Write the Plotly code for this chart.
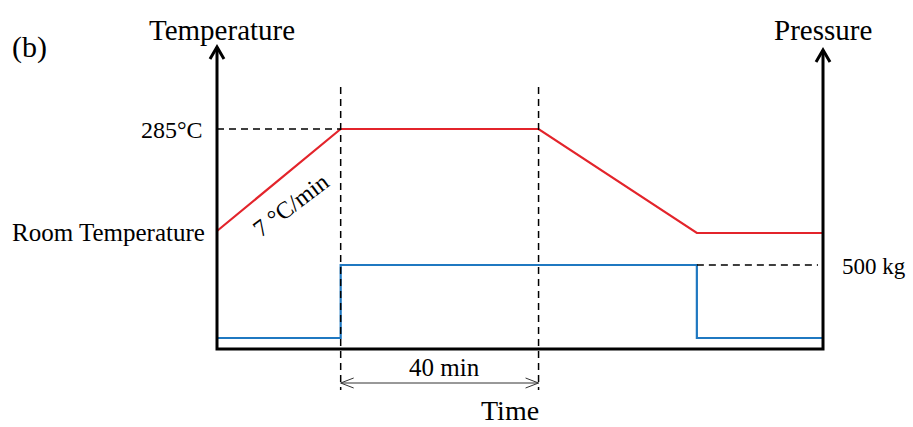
import plotly.graph_objects as go

# ---- schematic data (arbitrary units) ----
time_pts = [0, 25, 65, 97, 122.5]          # time breakpoints (min, schematic)
temp_vals = [118, 220, 220, 116, 116]      # temperature profile (schematic level)
press_time = [0, 25, 25, 97, 97, 122.5]
press_vals = [11, 11, 84, 84, 11, 11]      # pressure profile (schematic level)
hold_start, hold_end = 25, 65              # 40 min hold
temp_top = 220                             # 285°C level
press_top = 84                             # 500 kg level
axis_top_left = 302
axis_top_right = 299

W, H = 913, 427
X0PX, Y0PX = 217, 349       # pixel position of origin
SX = 4.947                  # px per time unit
SY = 1.0                    # px per level unit

xr = [(0 - X0PX) / SX, (W - X0PX) / SX]
yr = [(Y0PX - H) / SY, (Y0PX - 0) / SY]

def dx(px):
    return px / SX

def dy(px):
    return px / SY

FONT = "Liberation Serif"
RED = "#E3242B"
BLUE = "#1F78C1"

fig = go.Figure()

def line(xs, ys, color="black", width=2, dash=None):
    fig.add_trace(go.Scatter(x=xs, y=ys, mode="lines",
                             line=dict(color=color, width=width, dash=dash),
                             hoverinfo="skip", showlegend=False))

# signals
line(press_time, press_vals, BLUE, 2.2)
line(time_pts, temp_vals, RED, 2.2)

# dashed guides
DASH = "7px,5px"
line([hold_start, hold_start], [262, -41], "black", 1.5, DASH)
line([hold_end, hold_end], [262, -41], "black", 1.5, DASH)
line([0, hold_start], [temp_top, temp_top], "black", 1.5, DASH)
line([time_pts[3], time_pts[4] - dx(5)], [press_top, press_top], "black", 1.5, DASH)

# axes
line([0, 0, time_pts[-1], time_pts[-1]], [axis_top_left, 0, 0, axis_top_right], "black", 3)
# axis arrowheads (open chevrons)
for tx, ty in [(0, axis_top_left), (time_pts[-1], axis_top_right)]:
    line([tx - dx(7), tx, tx + dx(7)], [ty - dy(12), ty, ty - dy(12)], "black", 3)

# 40 min double arrow
ay = -34
line([hold_start, hold_end], [ay, ay], "#333333", 1)
line([hold_start + dx(13), hold_start, hold_start + dx(13)], [ay + dy(5), ay, ay - dy(5)], "#333333", 1)
line([hold_end - dx(13), hold_end, hold_end - dx(13)], [ay + dy(5), ay, ay - dy(5)], "#333333", 1)

def text(x, y, s, size, xanchor="center", angle=0):
    fig.add_annotation(x=x, y=y, text=s, showarrow=False, xanchor=xanchor,
                       yanchor="middle", textangle=angle,
                       font=dict(family=FONT, size=size, color="black"))

text(1.0, 319, "Temperature", 29)
text(time_pts[-1], 319, "Pressure", 29)
text(-38, 302, "(b)", 30)
text(-2.4, temp_top - 1, "285°C", 24, xanchor="right")
text(-2.0, 117, "Room Temperature", 25, xanchor="right")
text(126, press_top - 1, "500 kg", 23, xanchor="left")
text(46, -18, "40 min", 25)
text(59.2, -61, "Time", 28)
text(15.0, 144, "7 °C/min", 24, angle=-37)

fig.update_layout(
    width=W, height=H,
    margin=dict(l=0, r=0, t=0, b=0),
    paper_bgcolor="white", plot_bgcolor="white",
    xaxis=dict(range=xr, visible=False, fixedrange=True),
    yaxis=dict(range=yr, visible=False, fixedrange=True),
    showlegend=False,
)

fig.write_html("out.html")
